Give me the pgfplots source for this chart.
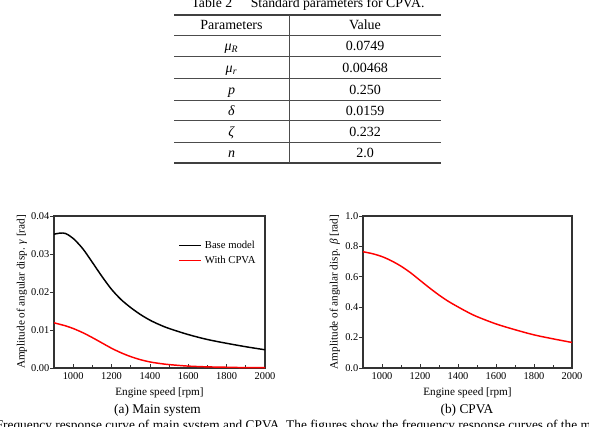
\documentclass[border=0pt]{standalone}
\usepackage{pgfplots}
\pgfplotsset{compat=1.18}
\usepackage{fontspec}
\setmainfont{Liberation Serif}

% data: amplitude of the main system and of the absorber
\pgfplotstableread{
rpm    base    cpva
900    0.0352  0.0119
930    0.0355  0.0115
960    0.0354  0.0111
1000   0.0341  0.0104
1050   0.0314  0.0093
1100   0.0278  0.0080
1150   0.0241  0.0066
1200   0.0207  0.0052
1250   0.0180  0.0040
1300   0.0159  0.0030
1350   0.0141  0.0022
1400   0.0126  0.0016
1450   0.0114  0.0012
1500   0.0104  0.0009
1600   0.0088  0.0005
1700   0.0075  0.0003
1800   0.0065  0.0002
1900   0.0056  0.0001
2000   0.0048  0.0001
}\mainsys
\pgfplotstableread{
rpm    beta
900    0.765
950    0.752
1000   0.733
1050   0.705
1100   0.670
1150   0.627
1200   0.577
1250   0.527
1300   0.480
1350   0.438
1400   0.402
1450   0.368
1500   0.338
1600   0.290
1700   0.252
1800   0.218
1900   0.192
2000   0.168
}\absorber

\pgfplotsset{
  frstyle/.style={
    scale only axis,
    height=114pt,
    xmin=900, xmax=2000,
    xtick={1000,1200,...,2000},
    minor xtick={1100,1300,...,1900},
    xtick pos=bottom, ytick pos=left,
    tick align=inside,
    major tick length=3pt, minor tick length=2pt,
    ytick style={xshift=-3pt},
    every tick/.style={black!80, line width=0.6pt},
    axis line style={black!80, line width=0.8pt},
    tick label style={font=\fontsize{7.8}{9}\selectfont},
    /pgf/number format/assume math mode=true,
    scaled y ticks=false,
    xticklabel style={/pgf/number format/.cd, fixed, 1000 sep={}},
    xlabel={Engine speed [rpm]},
    every axis x label/.style={at={(axis description cs:0.5,-0.178)}, anchor=base,
      font=\fontsize{8.4}{10}\selectfont},
  }
}

\begin{document}
\begin{tikzpicture}
\path[use as bounding box, clip] (0pt,0pt) rectangle (441.75pt,-319.5pt);

\begin{scope}[x=0.75pt,y=-0.75pt]
% ---- parameter table ----
\node[anchor=base, font=\fontsize{10.3}{12}\selectfont] at (308,7.5)
  {Table 2\hspace{14pt}Standard parameters for CPVA.};
\draw[black!75, line width=1.3pt] (174,15) -- (441,15);
\draw[black!75, line width=1.3pt] (174,163.3) -- (441,163.3);
\foreach \yy in {35,56.7,78.3,100,120.7,142.3}
  \draw[black!70, line width=0.7pt] (174,\yy) -- (441,\yy);
\draw[black!70, line width=0.7pt] (289,15) -- (289,163.3);
\begin{scope}[every node/.style={anchor=base, font=\fontsize{10.5}{12}\selectfont}]
\node at (231.5,29.8) {Parameters};
\node at (365,29.8) {Value};
\node at (231.5,50.6) {\textit{μ}\textsubscript{\textit{R}}};
\node at (365,50.6) {0.0749};
\node at (231.5,72.3) {\textit{μ}\textsubscript{\textit{r}}};
\node at (365,72.3) {0.00468};
\node at (231.5,94) {\textit{p}};
\node at (365,94) {0.250};
\node at (231.5,115.1) {\textit{δ}};
\node at (365,115.1) {0.0159};
\node at (231.5,136.3) {\textit{ζ}};
\node at (365,136.3) {0.232};
\node at (231.5,157.6) {\textit{n}};
\node at (365,157.6) {2.0};
\end{scope}

% ---- captions ----
\node[anchor=base, font=\fontsize{10}{12}\selectfont] at (157.5,413) {(a) Main system};
\node[anchor=base, font=\fontsize{10}{12}\selectfont] at (467,413) {(b) CPVA};
\node[anchor=base west, inner sep=0pt, font=\fontsize{10}{12}\selectfont] at (-4.5,429)
  {Frequency response curve of main system and CPVA. The figures show the frequency response curves of the main system and CPVA.};
\end{scope}

% ---- (a) main system ----
\begin{axis}[frstyle,
  at={(40.5pt,-276pt)}, anchor=south west,
  width=158.25pt,
  ymin=0, ymax=0.04, ytick={0,0.01,...,0.04},
  yticklabel style={/pgf/number format/.cd, fixed, fixed zerofill, precision=2},
  ylabel={Amplitude of angular disp. \textit{γ} [rad]},
  every axis y label/.style={at={(axis description cs:-0.152,0.5)}, rotate=90, anchor=center,
    font=\fontsize{8.4}{10}\selectfont},
  legend cell align=left,
  legend style={draw=none, fill=none, at={(axis description cs:0.59,0.855)}, anchor=north west,
    font=\fontsize{8}{9}\selectfont, inner xsep=0pt, inner ysep=0pt, row sep=0pt},
  legend image code/.code={\draw[#1] (0pt,0pt) -- (16.5pt,0pt);},
]
\addplot[black, line width=1.1pt, smooth] table[x=rpm, y=base] {\mainsys};
\addlegendentry{Base model}
\addplot[red, line width=1.1pt, smooth] table[x=rpm, y=cpva] {\mainsys};
\addlegendentry{With CPVA}
\end{axis}

% ---- (b) absorber ----
\begin{axis}[frstyle,
  at={(272.25pt,-276pt)}, anchor=south west,
  width=156.75pt,
  ymin=0, ymax=1, ytick={0,0.2,...,1.0},
  yticklabel style={/pgf/number format/.cd, fixed, fixed zerofill, precision=1},
  ylabel={Amplitude of angular disp. \textit{β} [rad]},
  every axis y label/.style={at={(axis description cs:-0.134,0.5)}, rotate=90, anchor=center,
    font=\fontsize{8.4}{10}\selectfont},
]
\addplot[red, line width=1.1pt, smooth] table[x=rpm, y=beta] {\absorber};
\end{axis}
\end{tikzpicture}
\end{document}
